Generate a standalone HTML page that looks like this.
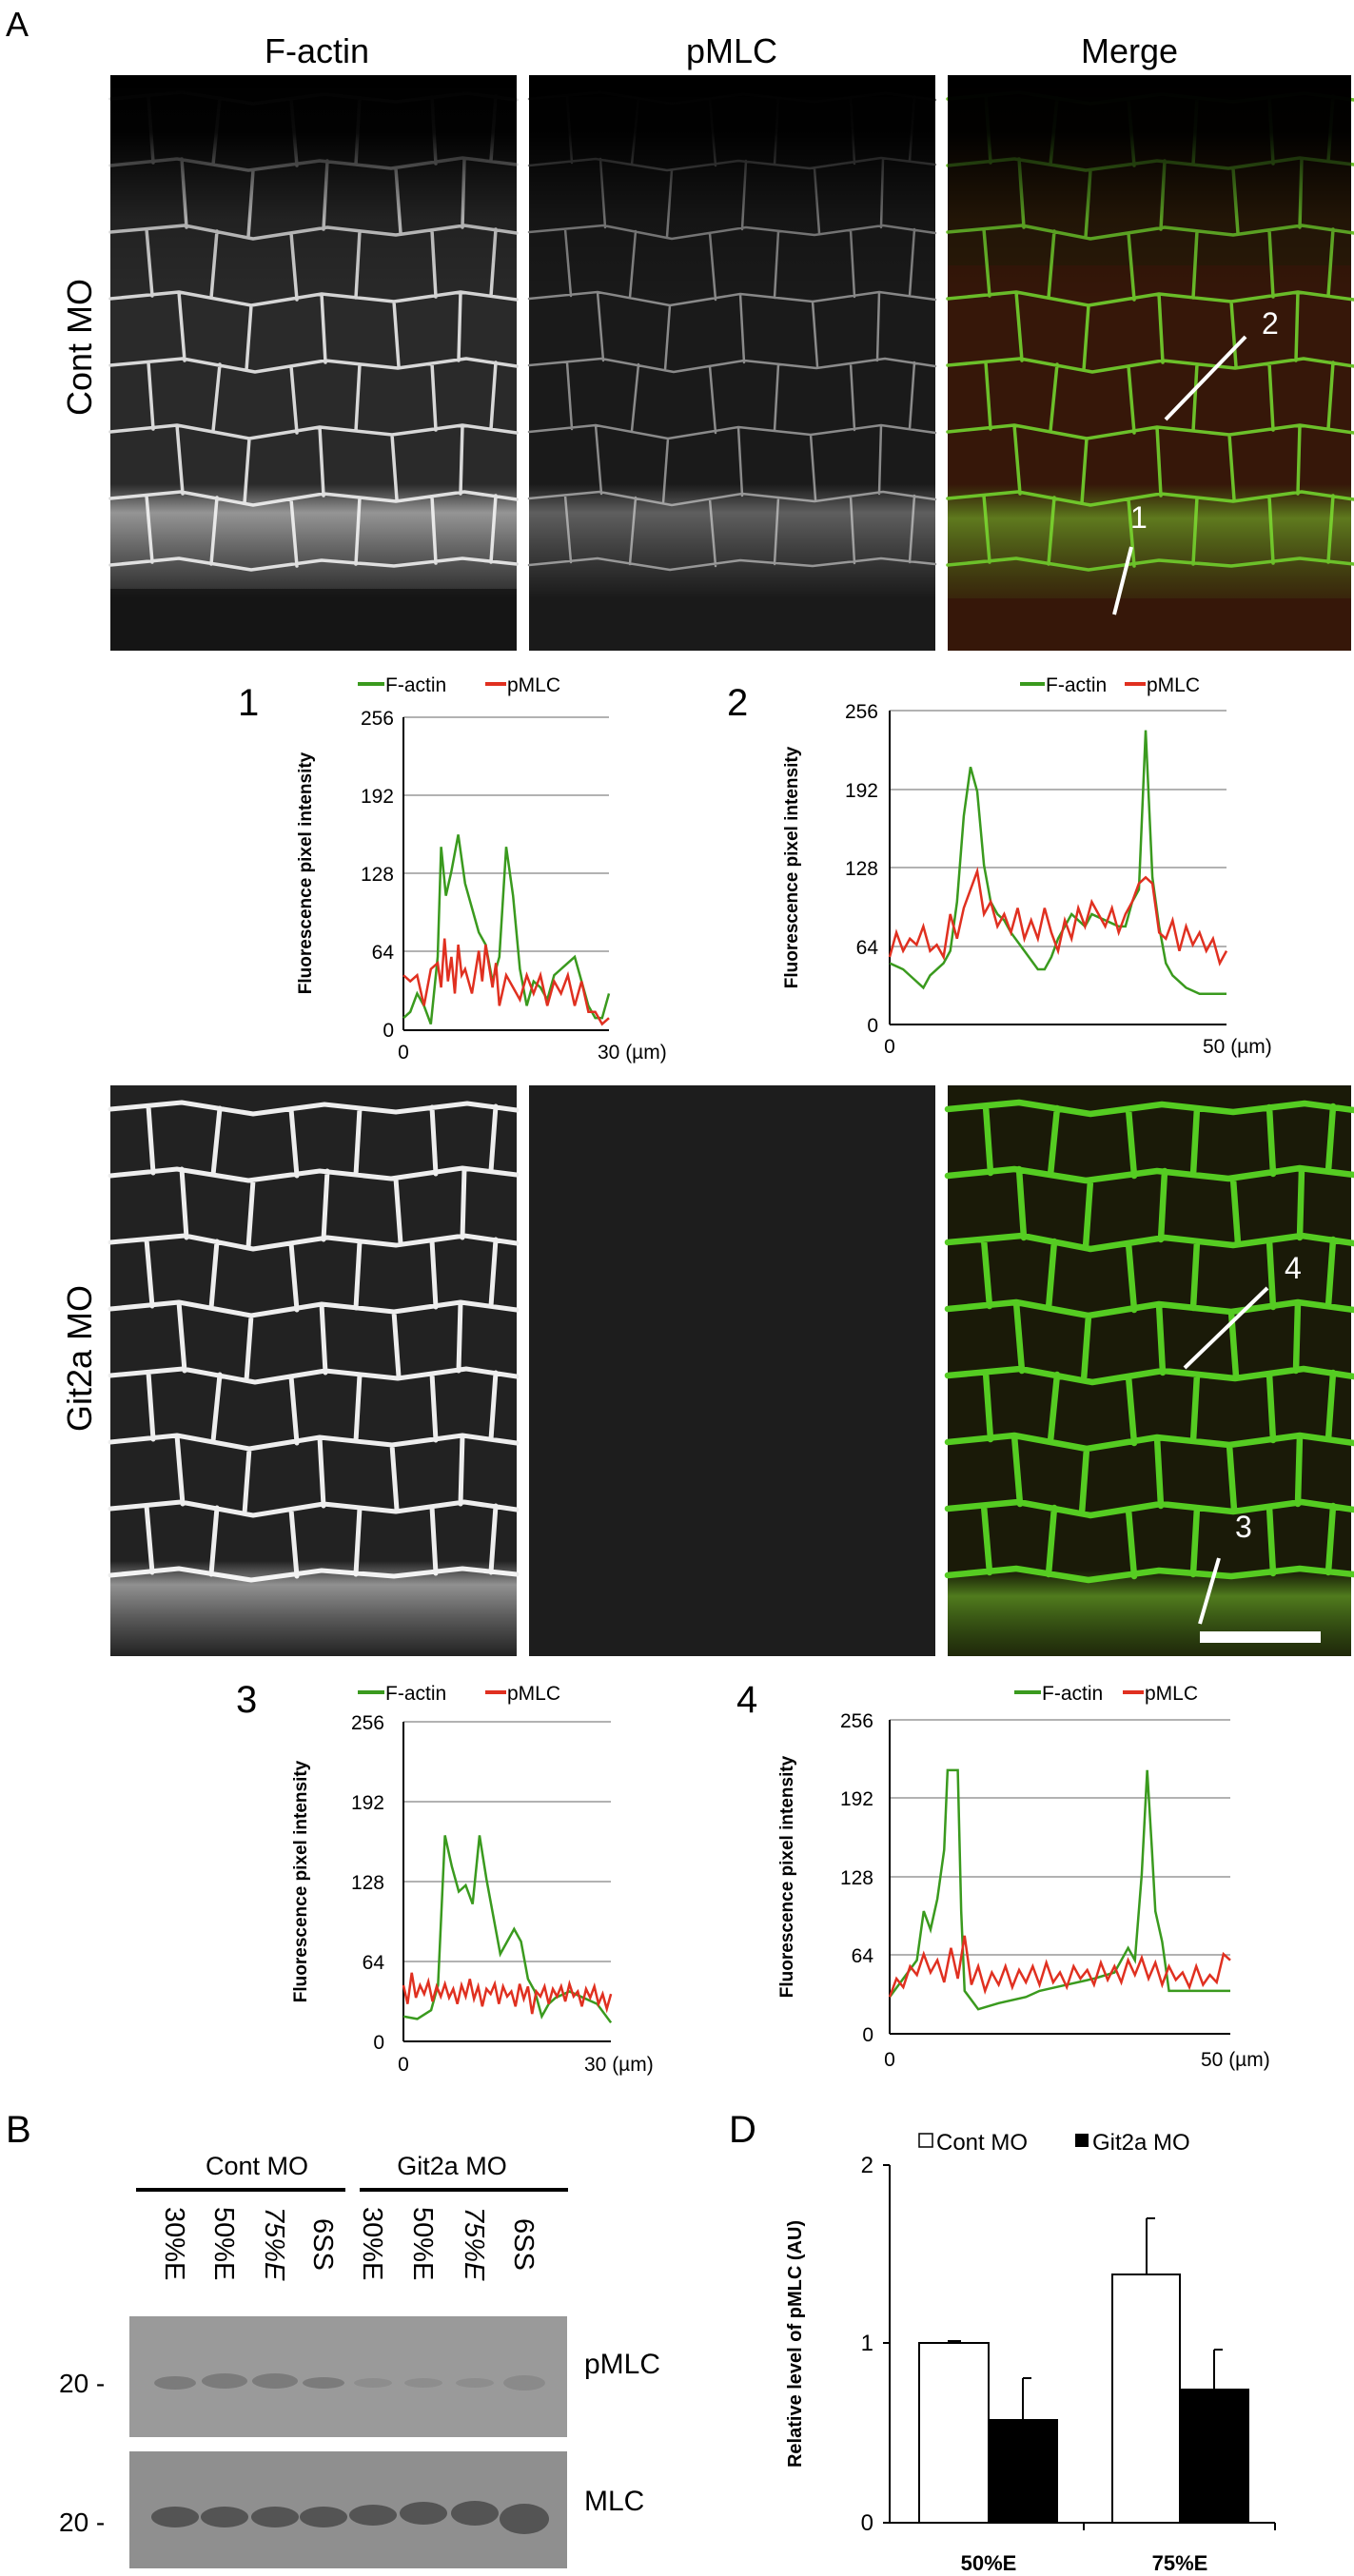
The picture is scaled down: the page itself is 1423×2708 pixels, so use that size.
<!DOCTYPE html>
<html><head><meta charset="utf-8"><style>
html,body{margin:0;padding:0;background:#fff}
svg{display:block}
text{font-family:"Liberation Sans",Arial,sans-serif}
</style></head><body>
<svg width="1423" height="2708" viewBox="0 0 1423 2708" xmlns="http://www.w3.org/2000/svg">
<defs>
<g id="cells" fill="none" stroke-linejoin="round" stroke-linecap="round">
<path d="M0,25 L75,18 L150,30 L225,20 L300,28 L375,19 L427,26
M0,95 L70,88 L145,100 L220,90 L295,98 L370,87 L427,94
M0,165 L78,158 L150,172 L228,160 L300,168 L372,158 L427,166
M0,235 L72,228 L148,242 L222,230 L298,238 L368,228 L427,236
M0,305 L76,298 L152,312 L226,300 L302,308 L374,298 L427,306
M0,375 L70,368 L146,382 L220,370 L296,378 L370,368 L427,376
M0,445 L74,438 L150,452 L224,440 L300,448 L372,438 L427,446
M0,515 L72,508 L148,520 L222,510 L298,516 L370,508 L427,514
M40,22 L45,92 M115,24 L108,94 M190,25 L196,95 M262,24 L258,94 M338,23 L342,93 M405,22 L400,90
M75,88 L80,160 M150,100 L145,170 M228,90 L224,162 M300,98 L305,166 M372,88 L370,160
M38,162 L44,232 M112,164 L106,234 M190,166 L196,236 M262,164 L258,234 M338,163 L342,233 M405,162 L400,232
M72,228 L78,300 M148,242 L143,310 M222,230 L226,302 M298,238 L303,306 M368,228 L366,300
M40,302 L45,372 M115,304 L108,374 M190,306 L196,376 M262,304 L258,374 M338,303 L342,373 M405,302 L400,372
M70,368 L76,440 M146,382 L141,450 M220,370 L224,442 M296,378 L301,446 M370,368 L368,440
M38,442 L44,512 M112,444 L106,514 M190,446 L196,516 M262,444 L258,514 M338,443 L342,513 M405,442 L400,512"/>
</g>
<linearGradient id="fadeTop" x1="0" y1="0" x2="0" y2="1">
<stop offset="0" stop-color="#000" stop-opacity="1"/>
<stop offset="0.1" stop-color="#000" stop-opacity="0.95"/>
<stop offset="0.25" stop-color="#000" stop-opacity="0.2"/>
<stop offset="0.4" stop-color="#000" stop-opacity="0"/>
<stop offset="1" stop-color="#000" stop-opacity="0"/>
</linearGradient>
<linearGradient id="band" x1="0" y1="0" x2="0" y2="1">
<stop offset="0" stop-color="#fff" stop-opacity="0"/>
<stop offset="0.25" stop-color="#fff" stop-opacity="0.5"/>
<stop offset="0.6" stop-color="#fff" stop-opacity="0.25"/>
<stop offset="1" stop-color="#fff" stop-opacity="0"/>
</linearGradient>
<linearGradient id="gband" x1="0" y1="0" x2="0" y2="1">
<stop offset="0" stop-color="#6c2" stop-opacity="0"/>
<stop offset="0.3" stop-color="#8d3" stop-opacity="0.5"/>
<stop offset="1" stop-color="#5a2" stop-opacity="0.1"/>
</linearGradient>
</defs>

<text x="6" y="38" font-size="36">A</text>
<text x="333" y="66" font-size="36" text-anchor="middle">F-actin</text>
<text x="769" y="66" font-size="36" text-anchor="middle">pMLC</text>
<text x="1187" y="66" font-size="36" text-anchor="middle">Merge</text>
<text transform="translate(96,365) rotate(-90)" font-size="36" text-anchor="middle">Cont MO</text>
<text transform="translate(96,1428) rotate(-90)" font-size="36" text-anchor="middle">Git2a MO</text>

<g transform="translate(116,79)">
<rect width="427" height="605" fill="#2a2a2a"/>
<use href="#cells" stroke="#d8d8d8" stroke-width="3.5"/>
<rect y="430" width="427" height="120" fill="url(#band)"/>
<rect y="540" width="427" height="65" fill="#000" opacity="0.5"/>
<rect width="427" height="605" fill="url(#fadeTop)"/>
</g>
<g transform="translate(556,79)">
<rect width="427" height="605" fill="#1a1a1a"/>
<use href="#cells" stroke="#8a8a8a" stroke-width="2.5"/>
<rect y="430" width="427" height="120" fill="url(#band)" opacity="0.6"/>
<rect width="427" height="605" fill="url(#fadeTop)"/>
</g>
<g transform="translate(996,79)">
<rect width="424" height="605" fill="#2a1a08"/>
<rect y="200" width="424" height="405" fill="#3a160a" opacity="0.8"/>
<use href="#cells" stroke="#6cc02a" stroke-width="3.5"/>
<rect y="430" width="424" height="120" fill="url(#gband)"/>
<rect width="424" height="605" fill="url(#fadeTop)"/>
<line x1="229" y1="362" x2="313" y2="275" stroke="#fff" stroke-width="4"/>
<text x="330" y="272" font-size="32" fill="#fff">2</text>
<line x1="175" y1="567" x2="193" y2="496" stroke="#fff" stroke-width="4"/>
<text x="192" y="476" font-size="32" fill="#fff">1</text>
</g>

<g transform="translate(116,1141)">
<rect width="427" height="600" fill="#222"/>
<use href="#cells" stroke="#eeeeee" stroke-width="5"/>
<rect y="500" width="427" height="100" fill="url(#band)"/>
</g>
<g transform="translate(556,1141)">
<rect width="427" height="600" fill="#1d1d1d"/>
</g>
<g transform="translate(996,1141)">
<rect width="424" height="600" fill="#1a1a08"/>
<use href="#cells" stroke="#55cc22" stroke-width="6.5"/>
<rect y="510" width="424" height="90" fill="url(#gband)"/>
<line x1="249" y1="297" x2="336" y2="213" stroke="#fff" stroke-width="4"/>
<text x="354" y="203" font-size="32" fill="#fff">4</text>
<line x1="265" y1="566" x2="285" y2="497" stroke="#fff" stroke-width="4"/>
<text x="302" y="475" font-size="32" fill="#fff">3</text>
<rect x="265" y="574" width="127" height="12" fill="#fff"/>
</g>

<g>
<text x="250" y="752" font-size="40">1</text>
<line x1="376" y1="719" x2="404" y2="719" stroke="#3a9a1e" stroke-width="4"/>
<text x="405" y="727" font-size="21">F-actin</text>
<line x1="510" y1="719" x2="532" y2="719" stroke="#e03020" stroke-width="4"/>
<text x="533" y="727" font-size="21">pMLC</text>
<g stroke="#999" stroke-width="1.5"><line x1="424" y1="754" x2="640" y2="754"/><line x1="424" y1="836" x2="640" y2="836"/><line x1="424" y1="918" x2="640" y2="918"/><line x1="424" y1="1000" x2="640" y2="1000"/></g>
<line x1="424" y1="754" x2="424" y2="1083" stroke="#000" stroke-width="2"/>
<line x1="424" y1="1083" x2="640" y2="1083" stroke="#000" stroke-width="2"/>
<g font-size="21" text-anchor="end"><text x="414" y="762">256</text><text x="414" y="844">192</text><text x="414" y="926">128</text><text x="414" y="1008">64</text><text x="414" y="1090">0</text></g>
<text transform="translate(327,918) rotate(-90)" font-size="19" font-weight="bold" text-anchor="middle">Fluorescence pixel intensity</text>
<text x="424" y="1113" font-size="21" text-anchor="middle">0</text>
<text x="628" y="1113" font-size="21">30 (µm)</text>
<g transform="translate(424,1083) scale(7.2,-1.285)" fill="none" stroke-width="2.5">
<polyline vector-effect="non-scaling-stroke" stroke="#3a9a1e" points="0,10 1,15 2,30 3,20 4,5 5,60 5.5,150 6.2,110 7,130 8,160 9,120 10,100 11,80 12,70 13,40 14,60 15,150 16,110 17,50 18,20 19,40 20,35 21,25 22,45 23,50 24,55 25,60 26,40 27,20 28,10 29,10 30,30"/>
<polyline vector-effect="non-scaling-stroke" stroke="#e03020" points="0,45 1,40 2,45 3,20 4,50 5,55 5.5,35 6,75 6.5,40 7,60 7.5,30 8,70 8.5,45 9,50 10,30 11,65 11.5,40 12,70 13,35 13.5,55 14,20 15,45 16,35 17,25 18,45 19,30 20,45 21,20 22,40 23,30 24,45 25,20 26,40 27,15 28,15 29,5 30,10"/>
</g>
</g>

<g>
<text x="764" y="752" font-size="40">2</text>
<line x1="1072" y1="719" x2="1098" y2="719" stroke="#3a9a1e" stroke-width="4"/>
<text x="1099" y="727" font-size="21">F-actin</text>
<line x1="1182" y1="719" x2="1204" y2="719" stroke="#e03020" stroke-width="4"/>
<text x="1205" y="727" font-size="21">pMLC</text>
<g stroke="#999" stroke-width="1.5"><line x1="935" y1="747" x2="1289" y2="747"/><line x1="935" y1="830" x2="1289" y2="830"/><line x1="935" y1="912" x2="1289" y2="912"/><line x1="935" y1="995" x2="1289" y2="995"/></g>
<line x1="935" y1="747" x2="935" y2="1077" stroke="#000" stroke-width="2"/>
<line x1="935" y1="1077" x2="1289" y2="1077" stroke="#000" stroke-width="2"/>
<g font-size="21" text-anchor="end"><text x="923" y="755">256</text><text x="923" y="838">192</text><text x="923" y="920">128</text><text x="923" y="1003">64</text><text x="923" y="1085">0</text></g>
<text transform="translate(838,912) rotate(-90)" font-size="19" font-weight="bold" text-anchor="middle">Fluorescence pixel intensity</text>
<text x="935" y="1107" font-size="21" text-anchor="middle">0</text>
<text x="1264" y="1107" font-size="21">50 (µm)</text>
<g transform="translate(935,1077) scale(7.08,-1.289)" fill="none">
<polyline vector-effect="non-scaling-stroke" stroke-width="2.5" stroke="#3a9a1e" points="0,50 2,45 4,35 5,30 6,40 8,50 9,60 10,100 11,170 12,210 13,190 14,130 15,100 16,90 17,85 18,75 20,60 22,45 23,45 24,55 25,70 26,80 27,90 28,85 29,80 30,90 32,85 34,80 35,80 36,100 37,110 38,240 39,120 40,80 41,50 42,40 44,30 46,25 48,25 50,25"/>
<polyline vector-effect="non-scaling-stroke" stroke-width="2.5" stroke="#e03020" points="0,55 1,75 2,60 3,70 4,65 5,80 6,60 7,65 8,55 9,90 10,70 11,95 12,110 13,125 14,90 15,100 16,80 17,90 18,75 19,95 20,70 21,85 22,70 23,95 24,75 25,60 26,85 27,70 28,95 29,80 30,100 31,90 32,80 33,95 34,75 35,90 36,100 37,115 38,120 39,115 40,75 41,70 42,85 43,60 44,80 45,65 46,75 47,60 48,70 49,50 50,60"/>
</g>
</g>

<g>
<text x="248" y="1800" font-size="40">3</text>
<line x1="376" y1="1779" x2="404" y2="1779" stroke="#3a9a1e" stroke-width="4"/>
<text x="405" y="1787" font-size="21">F-actin</text>
<line x1="510" y1="1779" x2="532" y2="1779" stroke="#e03020" stroke-width="4"/>
<text x="533" y="1787" font-size="21">pMLC</text>
<g stroke="#999" stroke-width="1.5"><line x1="424" y1="1810" x2="642" y2="1810"/><line x1="424" y1="1894" x2="642" y2="1894"/><line x1="424" y1="1978" x2="642" y2="1978"/><line x1="424" y1="2062" x2="642" y2="2062"/></g>
<line x1="424" y1="1810" x2="424" y2="2146" stroke="#000" stroke-width="2"/>
<line x1="424" y1="2146" x2="642" y2="2146" stroke="#000" stroke-width="2"/>
<g font-size="21" text-anchor="end"><text x="404" y="1818">256</text><text x="404" y="1902">192</text><text x="404" y="1986">128</text><text x="404" y="2070">64</text><text x="404" y="2154">0</text></g>
<text transform="translate(322,1978) rotate(-90)" font-size="19" font-weight="bold" text-anchor="middle">Fluorescence pixel intensity</text>
<text x="424" y="2177" font-size="21" text-anchor="middle">0</text>
<text x="614" y="2177" font-size="21">30 (µm)</text>
<g transform="translate(424,2146) scale(7.27,-1.3125)" fill="none">
<polyline vector-effect="non-scaling-stroke" stroke-width="2.5" stroke="#3a9a1e" points="0,20 2,18 4,25 5,45 6,165 7,140 8,120 9,125 10,110 11,165 12,130 13,100 14,70 15,80 16,90 17,80 18,50 19,40 20,20 21,30 22,35 24,40 26,35 28,30 30,15"/>
<polyline vector-effect="non-scaling-stroke" stroke-width="2.5" stroke="#e03020" points="0,45 0.6,30 1.2,55 1.8,35 2.4,45 3,38 3.6,48 4.2,32 4.8,44 5.4,36 6,46 6.6,35 7.2,42 7.8,30 8.4,45 9,36 9.6,50 10.2,34 10.8,44 11.4,28 12,42 12.6,38 13.2,46 13.8,30 14.4,44 15,36 15.6,40 16.2,28 16.8,46 17.4,34 18,44 18.6,22 19.2,40 19.8,36 20.4,44 21,30 21.6,42 22.2,36 22.8,44 23.4,32 24,46 24.6,36 25.2,40 25.8,28 26.4,42 27,35 27.6,44 28.2,30 28.8,38 29.4,26 30,38"/>
</g>
</g>

<g>
<text x="774" y="1800" font-size="40">4</text>
<line x1="1066" y1="1779" x2="1094" y2="1779" stroke="#3a9a1e" stroke-width="4"/>
<text x="1095" y="1787" font-size="21">F-actin</text>
<line x1="1180" y1="1779" x2="1202" y2="1779" stroke="#e03020" stroke-width="4"/>
<text x="1203" y="1787" font-size="21">pMLC</text>
<g stroke="#999" stroke-width="1.5"><line x1="935" y1="1808" x2="1293" y2="1808"/><line x1="935" y1="1890" x2="1293" y2="1890"/><line x1="935" y1="1973" x2="1293" y2="1973"/><line x1="935" y1="2055" x2="1293" y2="2055"/></g>
<line x1="935" y1="1808" x2="935" y2="2138" stroke="#000" stroke-width="2"/>
<line x1="935" y1="2138" x2="1293" y2="2138" stroke="#000" stroke-width="2"/>
<g font-size="21" text-anchor="end"><text x="918" y="1816">256</text><text x="918" y="1898">192</text><text x="918" y="1981">128</text><text x="918" y="2063">64</text><text x="918" y="2146">0</text></g>
<text transform="translate(833,1973) rotate(-90)" font-size="19" font-weight="bold" text-anchor="middle">Fluorescence pixel intensity</text>
<text x="935" y="2172" font-size="21" text-anchor="middle">0</text>
<text x="1262" y="2172" font-size="21">50 (µm)</text>
<g transform="translate(935,2138) scale(7.16,-1.289)" fill="none">
<polyline vector-effect="non-scaling-stroke" stroke-width="2.5" stroke="#3a9a1e" points="0,30 2,45 4,60 5,100 6,85 7,110 8,150 8.5,215 10,215 10.5,100 11,35 13,20 16,25 20,30 22,35 26,40 30,45 33,50 35,70 36,60 37,130 37.8,215 38.5,150 39,100 40,75 41,35 44,35 50,35"/>
<polyline vector-effect="non-scaling-stroke" stroke-width="2.5" stroke="#e03020" points="0,30 1,45 2,38 3,55 4,48 5,65 6,50 7,60 8,42 9,70 10,45 11,80 12,40 13,55 14,35 15,50 16,40 17,55 18,38 19,52 20,42 21,55 22,40 23,58 24,42 25,50 26,38 27,55 28,45 29,52 30,40 31,58 32,44 33,55 34,42 35,60 36,48 37,62 38,45 39,58 40,40 41,55 42,44 43,50 44,38 45,55 46,40 47,48 48,42 49,65 50,60"/>
</g>
</g>

<text x="6" y="2252" font-size="40">B</text>
<text x="270" y="2286" font-size="27" text-anchor="middle">Cont MO</text>
<text x="475" y="2286" font-size="27" text-anchor="middle">Git2a MO</text>
<line x1="143" y1="2302" x2="363" y2="2302" stroke="#000" stroke-width="4"/>
<line x1="378" y1="2302" x2="597" y2="2302" stroke="#000" stroke-width="4"/>
<g font-size="29">
<text transform="translate(174,2320) rotate(90)">30%E</text>
<text transform="translate(226,2320) rotate(90)">50%E</text>
<text transform="translate(279,2320) rotate(90)" font-style="italic">75%E</text>
<text transform="translate(330,2332) rotate(90)">6SS</text>
<text transform="translate(382,2320) rotate(90)">30%E</text>
<text transform="translate(435,2320) rotate(90)">50%E</text>
<text transform="translate(489,2320) rotate(90)" font-style="italic">75%E</text>
<text transform="translate(541,2332) rotate(90)">6SS</text>
</g>
<rect x="136" y="2435" width="460" height="127" fill="#9a9a9a"/>
<g fill="#6e6e6e" opacity="0.7">
<ellipse cx="184" cy="2505" rx="22" ry="7"/><ellipse cx="236" cy="2503" rx="24" ry="8"/><ellipse cx="289" cy="2503" rx="24" ry="8"/><ellipse cx="340" cy="2505" rx="22" ry="6"/>
<ellipse cx="392" cy="2505" rx="20" ry="5" opacity="0.4"/><ellipse cx="445" cy="2505" rx="20" ry="5" opacity="0.4"/><ellipse cx="499" cy="2505" rx="20" ry="5" opacity="0.4"/><ellipse cx="551" cy="2505" rx="22" ry="8" opacity="0.5"/>
</g>
<rect x="136" y="2577" width="460" height="123" fill="#8f8f8f"/>
<g fill="#4a4a4a" opacity="0.85">
<ellipse cx="184" cy="2646" rx="25" ry="11"/><ellipse cx="236" cy="2646" rx="25" ry="11"/><ellipse cx="289" cy="2646" rx="25" ry="11"/><ellipse cx="340" cy="2646" rx="25" ry="11"/>
<ellipse cx="392" cy="2644" rx="25" ry="11"/><ellipse cx="445" cy="2642" rx="25" ry="12"/><ellipse cx="499" cy="2642" rx="25" ry="13"/><ellipse cx="551" cy="2648" rx="26" ry="16"/>
</g>
<text x="614" y="2495" font-size="30">pMLC</text>
<text x="614" y="2639" font-size="30">MLC</text>
<text x="62" y="2515" font-size="28">20 -</text>
<text x="62" y="2661" font-size="28">20 -</text>

<text x="766" y="2252" font-size="40">D</text>
<rect x="966" y="2243" width="14" height="14" fill="#fff" stroke="#000" stroke-width="1.5"/>
<text x="984" y="2260" font-size="24">Cont MO</text>
<rect x="1130" y="2243" width="14" height="14" fill="#000"/>
<text x="1148" y="2260" font-size="24">Git2a MO</text>
<line x1="935" y1="2276" x2="935" y2="2652" stroke="#000" stroke-width="2"/>
<line x1="935" y1="2652" x2="1340" y2="2652" stroke="#000" stroke-width="2"/>
<g stroke="#000" stroke-width="2"><line x1="928" y1="2276" x2="935" y2="2276"/><line x1="928" y1="2463" x2="935" y2="2463"/><line x1="928" y1="2652" x2="935" y2="2652"/><line x1="1139" y1="2652" x2="1139" y2="2660"/><line x1="1340" y1="2652" x2="1340" y2="2660"/></g>
<g font-size="24" text-anchor="end"><text x="918" y="2284">2</text><text x="918" y="2471">1</text><text x="918" y="2660">0</text></g>
<text transform="translate(842,2464) rotate(-90)" font-size="20" font-weight="bold" text-anchor="middle">Relative level of pMLC (AU)</text>
<rect x="966" y="2463" width="73" height="189" fill="#fff" stroke="#000" stroke-width="2"/>
<rect x="1039" y="2543" width="73" height="109" fill="#000"/>
<rect x="1169" y="2391" width="71" height="261" fill="#fff" stroke="#000" stroke-width="2"/>
<rect x="1240" y="2511" width="73" height="141" fill="#000"/>
<g stroke="#000" stroke-width="2">
<line x1="996" y1="2461" x2="1010" y2="2461"/>
<line x1="1075" y1="2500" x2="1084" y2="2500"/><line x1="1075" y1="2500" x2="1075" y2="2543"/>
<line x1="1205" y1="2332" x2="1214" y2="2332"/><line x1="1205" y1="2332" x2="1205" y2="2391"/>
<line x1="1276" y1="2470" x2="1285" y2="2470"/><line x1="1276" y1="2470" x2="1276" y2="2511"/>
</g>
<g font-size="22" font-weight="bold" text-anchor="middle"><text x="1039" y="2702">50%E</text><text x="1240" y="2702">75%E</text></g>
</svg>
</body></html>
